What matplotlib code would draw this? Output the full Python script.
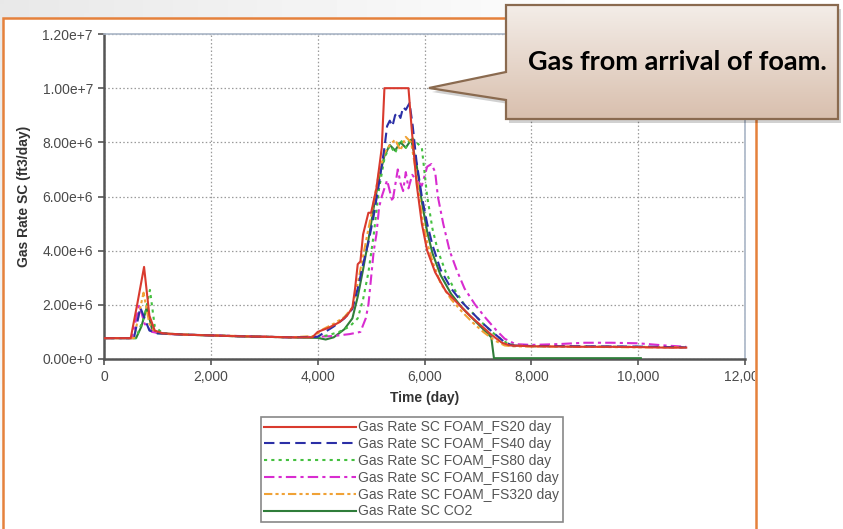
import numpy as np
import matplotlib
matplotlib.use("Agg")
import matplotlib.pyplot as plt
from matplotlib.patches import Polygon, Rectangle
from matplotlib.ticker import FuncFormatter
from matplotlib.transforms import Bbox

plt.rcParams['font.family'] = ['Liberation Sans', 'DejaVu Sans']

# gas rate curves, time in days, rate in 1e6 ft3/day
t_fs20 = [0, 500, 620, 750, 850, 950, 1100, 1500, 2000, 2500, 3000, 3500, 3900, 4000, 4200, 4400, 4550,
          4650, 4700, 4750, 4800, 4850, 4900, 4950, 5000, 5100, 5200, 5250, 5700, 5760, 5850, 5950, 6050,
          6200, 6400, 6650, 6850, 7050, 7250, 7450, 7600, 8000, 8500, 9000, 9500, 10000, 10500, 10900]
q_fs20 = [0.77, 0.77, 2.0, 3.4, 1.6, 1.05, 0.95, 0.9, 0.87, 0.84, 0.82, 0.8, 0.8, 1.0, 1.15, 1.35, 1.6,
          1.9, 2.6, 3.5, 3.6, 4.6, 5.0, 5.4, 5.4, 6.3, 7.8, 10.0, 10.0, 8.5, 6.5, 5.0, 4.0,
          3.2, 2.5, 2.0, 1.6, 1.25, 0.9, 0.6, 0.5, 0.47, 0.46, 0.45, 0.45, 0.44, 0.42, 0.42]

t_fs40 = [0, 560, 680, 760, 850, 1000, 1500, 2500, 3500, 4000, 4100, 4300, 4500, 4650, 4750, 4850, 4950,
          5050, 5150, 5250, 5300, 5350, 5400, 5450, 5500, 5550, 5600, 5650, 5720, 5780, 5850, 5950, 6050,
          6150, 6300, 6500, 6700, 6900, 7100, 7300, 7500, 7650, 8000, 9000, 10000, 10900]
q_fs40 = [0.77, 0.77, 1.9, 1.5, 1.05, 0.95, 0.9, 0.84, 0.8, 0.82, 0.95, 1.2, 1.5, 1.85, 2.6, 3.5, 4.3,
          5.3, 6.5, 7.8, 8.6, 8.8, 8.6, 9.0, 9.1, 8.9, 9.3, 9.2, 9.45, 8.6, 7.3, 6.0, 5.0,
          4.2, 3.3, 2.6, 2.1, 1.7, 1.3, 0.95, 0.62, 0.5, 0.48, 0.47, 0.46, 0.43]

t_fs80 = [0, 600, 760, 860, 950, 1100, 1500, 2500, 3500, 4000, 4200, 4400, 4600, 4750, 4850, 4950, 5050,
          5150, 5250, 5350, 5450, 5550, 5650, 5750, 5850, 5950, 6050, 6150, 6250, 6400, 6550, 6750, 6950,
          7150, 7350, 7550, 7700, 8000, 9000, 10000, 10900]
q_fs80 = [0.77, 0.77, 1.6, 2.55, 1.2, 0.95, 0.9, 0.84, 0.8, 0.8, 0.88, 1.0, 1.2, 1.5, 2.2, 3.2, 4.6,
          6.3, 7.4, 7.9, 7.6, 8.1, 7.8, 8.2, 8.0, 7.8, 6.0, 4.8, 4.0, 3.2, 2.6, 2.0, 1.6,
          1.2, 0.85, 0.58, 0.5, 0.47, 0.46, 0.45, 0.43]

t_fs160 = [0, 520, 660, 760, 900, 1100, 1500, 2500, 3500, 4000, 4300, 4600, 4800, 4900, 4950, 5000, 5050,
           5100, 5150, 5200, 5300, 5400, 5500, 5550, 5600, 5650, 5700, 5770, 5850, 5950, 6050, 6130, 6200,
           6250, 6350, 6470, 6600, 6750, 6950, 7150, 7350, 7500, 7700, 8000, 8500, 9000, 9500, 10000,
           10500, 10900]
q_fs160 = [0.77, 0.77, 2.0, 1.3, 1.0, 0.93, 0.9, 0.85, 0.8, 0.82, 0.85, 0.92, 1.0, 1.5, 2.0, 3.0, 4.0,
           4.6, 5.6, 6.0, 6.6, 5.8, 7.0, 6.5, 6.2, 6.9, 6.3, 6.8, 6.6, 6.4, 7.1, 7.2, 6.9,
           6.0, 5.0, 4.0, 3.3, 2.6, 2.0, 1.5, 1.05, 0.75, 0.55, 0.52, 0.55, 0.6, 0.6, 0.58,
           0.5, 0.45]

t_fs320 = [0, 560, 740, 850, 950, 1100, 1500, 2500, 3500, 3950, 4100, 4300, 4500, 4650, 4750, 4850, 4950,
           5050, 5150, 5250, 5350, 5450, 5550, 5650, 5750, 5850, 5950, 6050, 6150, 6300, 6500, 6700, 6900,
           7100, 7300, 7500, 7650, 8000, 9000, 10000, 10900]
q_fs320 = [0.77, 0.77, 2.45, 1.3, 1.0, 0.93, 0.9, 0.85, 0.8, 0.85, 1.1, 1.3, 1.55, 1.9, 2.8, 3.8, 4.8,
           5.8, 6.9, 7.6, 7.9, 8.1, 7.7, 8.2, 8.0, 6.8, 5.3, 4.3, 3.6, 2.8, 2.2, 1.75, 1.35,
           1.0, 0.7, 0.5, 0.47, 0.46, 0.45, 0.43, 0.43]

t_co2 = [0, 600, 700, 800, 900, 1000, 1500, 2500, 3500, 4000, 4150, 4300, 4500, 4650, 4750, 4850, 4950,
         5050, 5150, 5250, 5350, 5450, 5550, 5650, 5750, 5850, 5950, 6050, 6150, 6300, 6500, 6700, 6900,
         7100, 7250, 7300, 8000, 9000, 10050]
q_co2 = [0.77, 0.77, 1.2, 1.9, 1.1, 0.95, 0.9, 0.84, 0.8, 0.78, 0.72, 0.8, 1.1, 1.5, 2.3, 3.3, 4.4,
         5.6, 6.7, 7.5, 7.9, 7.7, 8.0, 7.8, 8.1, 7.2, 5.8, 4.7, 3.9, 3.1, 2.4, 1.9, 1.5,
         1.1, 0.8, 0.03, 0.03, 0.03, 0.03]

labels = ["Gas Rate SC FOAM_FS20 day", "Gas Rate SC FOAM_FS40 day", "Gas Rate SC FOAM_FS80 day",
          "Gas Rate SC FOAM_FS160 day", "Gas Rate SC FOAM_FS320 day", "Gas Rate SC CO2"]
x_ticks = [0, 2000, 4000, 6000, 8000, 10000, 12000]
y_ticks = [0, 2e6, 4e6, 6e6, 8e6, 1e7, 1.2e7]

fig = plt.figure(figsize=(8.43, 5.29), dpi=100)
fig.patch.set_facecolor("white")

# background and orange frame
bg = fig.add_axes([0, 0, 1, 1], zorder=-10)
bg.set_xlim(0, 843)
bg.set_ylim(529, 0)
bg.axis("off")
gx, gy = np.meshgrid(np.linspace(0, 1, 200), np.linspace(0, 1, 120))
shade = 1 - 0.09 * np.clip(1 - 1.3 * np.hypot(gx, gy * 0.6), 0, 1)
bg.imshow(shade, cmap="gray", vmin=0, vmax=1, extent=(0, 843, 529, 0), aspect="auto")
bg.add_patch(Rectangle((3, 18), 753, 530, facecolor="white", edgecolor="#e5813c", lw=1.8))

ax = fig.add_axes([104 / 843, 1 - 359 / 529, 641 / 843, 325 / 529])
ax.set_facecolor("white")

series = [
    (t_fs20, q_fs20, dict(color="#d93a2e", ls="-", lw=1.5), 8),
    (t_fs40, q_fs40, dict(color="#2b2fa6", ls=(0, (5, 2.5)), lw=1.5), 7),
    (t_fs80, q_fs80, dict(color="#45c040", ls=(0, (1.5, 2)), lw=1.5), 5),
    (t_fs160, q_fs160, dict(color="#d82cd0", ls=(0, (5, 2, 1.5, 2)), lw=1.5), 4),
    (t_fs320, q_fs320, dict(color="#f0a236", ls=(0, (4, 1.5, 1.5, 1.5, 1.5, 1.5)), lw=1.5), 6),
    (t_co2, q_co2, dict(color="#2f7d3a", ls="-", lw=1.5), 3),
]
handles = []
for (t, q, st, z), lab in zip(series, labels):
    h, = ax.plot(t, np.array(q) * 1e6, label=lab, zorder=z, **st)
    handles.append(h)

ax.set_xlim(0, 12000)
ax.set_ylim(0, 1.2e7)
ax.set_xticks(x_ticks)
ax.set_yticks(y_ticks)
ax.xaxis.set_major_formatter(FuncFormatter(lambda v, p: f"{v:,.0f}"))


def sci(v, p):
    if v == 0:
        return "0.00e+0"
    e = int(np.floor(np.log10(v)))
    return f"{v / 10 ** e:.2f}e+{e}"


ax.yaxis.set_major_formatter(FuncFormatter(sci))
ax.grid(True, color="#9a9a9a", ls=(0, (1.2, 1.8)), lw=0.9)
ax.set_axisbelow(True)
for s in ["left", "bottom"]:
    ax.spines[s].set_color("#555555")
    ax.spines[s].set_linewidth(1.8)
for s in ["top", "right"]:
    ax.spines[s].set_color("#a9b5c6")
    ax.spines[s].set_linewidth(1.2)
ax.tick_params(direction="out", length=4, width=1.2, color="#555555", labelsize=10,
               labelcolor="#4a4a4a", pad=4)
ax.set_xlabel("Time (day)", fontsize=10, fontweight="bold", color="#333333", labelpad=5)
ax.set_ylabel("Gas Rate SC (ft3/day)", fontsize=10, fontweight="bold", color="#333333", labelpad=8)

# the last x label is cut by the frame
for lbl in ax.get_xticklabels():
    lbl.set_clip_on(True)
    lbl.set_clip_box(Bbox.from_extents(0, 0, 755, 529))

leg = fig.legend(handles=handles, loc="upper left", bbox_to_anchor=(261 / 843, 1 - 417 / 529),
                 fontsize=10, frameon=True, fancybox=False, edgecolor="#888888", framealpha=1,
                 handlelength=6.6, handletextpad=0.15, labelspacing=0.2, borderpad=0.25,
                 borderaxespad=0)
leg.get_frame().set_linewidth(1.2)
for txt in leg.get_texts():
    txt.set_color("#555555")

# callout box
ov = fig.add_axes([0, 0, 1, 1], zorder=20)
ov.set_xlim(0, 843)
ov.set_ylim(529, 0)
ov.axis("off")
ov.patch.set_alpha(0)
pts = [(506, 5), (838, 5), (838, 119), (506, 119), (506, 100), (429, 88), (506, 72)]
shadow = Polygon([(x + 3, y + 4) for x, y in pts], closed=True, facecolor="#000000", alpha=0.18,
                 edgecolor="none")
ov.add_patch(shadow)
body = Polygon(pts, closed=True, facecolor="none", edgecolor="none")
ov.add_patch(body)
grad = np.linspace(0, 1, 100).reshape(-1, 1)
top_c = np.array([0.955, 0.93, 0.91])
bot_c = np.array([0.85, 0.75, 0.68])
img = top_c + (bot_c - top_c) * grad[..., None]
im = ov.imshow(img, extent=(429, 838, 119, 5), aspect="auto", zorder=21)
im.set_clip_path(body)
ov.add_patch(Polygon(pts, closed=True, facecolor="none", edgecolor="#8a6a4f", lw=1.6, zorder=22))
ov.text(677, 62, "Gas from arrival of foam.", ha="center", va="center", fontsize=19.5,
        fontweight="bold", family=["Lato", "DejaVu Sans"], color="black", zorder=23)

fig.savefig("out.png", dpi=100)
